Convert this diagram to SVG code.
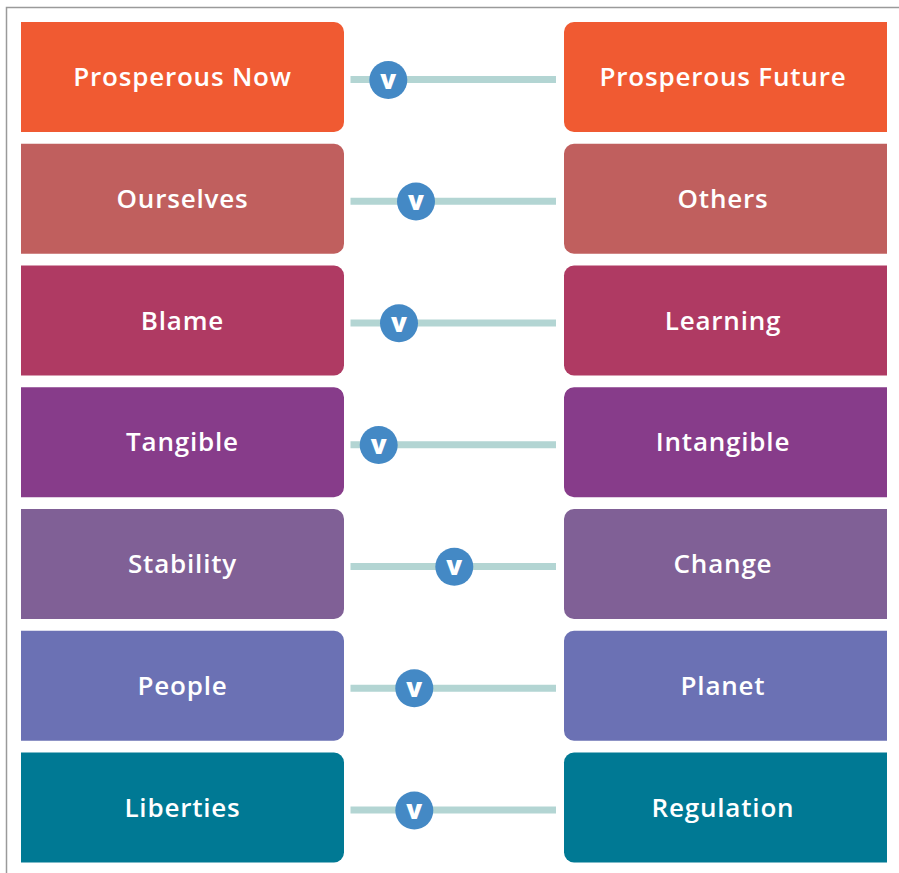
<svg xmlns="http://www.w3.org/2000/svg" width="899" height="873" viewBox="0 0 899 873">
<style>
.lbl{font-family:"Open Sans",Lato,"Liberation Sans",sans-serif;font-weight:600;font-size:26px;letter-spacing:0.8px;fill:#ffffff;text-anchor:middle}
.knob{fill:#4489C5}
.kt{font-family:"Open Sans",Lato,"Liberation Sans",sans-serif;font-weight:800;font-size:26px;fill:#ffffff;text-anchor:middle}
.track{fill:#B3D5D3}
.c1{fill:#F05A32}.c2{fill:#C05F5E}.c3{fill:#AF3A63}.c4{fill:#873C8A}.c5{fill:#806096}.c6{fill:#6B71B4}.c7{fill:#007994}
</style>
<rect width="899" height="873" fill="#ffffff"/>
<path d="M6.5,873 V7.5 H899" fill="none" stroke="#9a9a9a" stroke-width="1.5"/>

<g id="connectors">
<rect class="track" x="350.5" y="76" width="205.5" height="7"/>
<rect class="track" x="350.5" y="197.75" width="205.5" height="7"/>
<rect class="track" x="350.5" y="319.5" width="205.5" height="7"/>
<rect class="track" x="350.5" y="441.25" width="205.5" height="7"/>
<rect class="track" x="350.5" y="563" width="205.5" height="7"/>
<rect class="track" x="350.5" y="684.75" width="205.5" height="7"/>
<rect class="track" x="350.5" y="806.5" width="205.5" height="7"/>
</g>

<g id="row1-left"><path class="c1" d="M21,22 H334 a10,10 0 0 1 10,10 V122 a10,10 0 0 1 -10,10 H21 Z"/><text class="lbl" x="182.5" y="86">Prosperous Now</text></g>
<g id="row1-right"><path class="c1" d="M887,22 V132 H574 a10,10 0 0 1 -10,-10 V32 a10,10 0 0 1 10,-10 Z"/><text class="lbl" x="723" y="86">Prosperous Future</text></g>
<g id="row1-knob"><circle class="knob" cx="388.3" cy="80" r="19"/><text class="kt" x="388.3" y="88.5">v</text></g>

<g id="row2-left"><path class="c2" d="M21,143.75 H334 a10,10 0 0 1 10,10 V243.75 a10,10 0 0 1 -10,10 H21 Z"/><text class="lbl" x="182.5" y="207.75">Ourselves</text></g>
<g id="row2-right"><path class="c2" d="M887,143.75 V253.75 H574 a10,10 0 0 1 -10,-10 V153.75 a10,10 0 0 1 10,-10 Z"/><text class="lbl" x="723" y="207.75">Others</text></g>
<g id="row2-knob"><circle class="knob" cx="416" cy="201.5" r="19"/><text class="kt" x="416" y="210">v</text></g>

<g id="row3-left"><path class="c3" d="M21,265.5 H334 a10,10 0 0 1 10,10 V365.5 a10,10 0 0 1 -10,10 H21 Z"/><text class="lbl" x="182.5" y="329.5">Blame</text></g>
<g id="row3-right"><path class="c3" d="M887,265.5 V375.5 H574 a10,10 0 0 1 -10,-10 V275.5 a10,10 0 0 1 10,-10 Z"/><text class="lbl" x="723" y="329.5">Learning</text></g>
<g id="row3-knob"><circle class="knob" cx="399" cy="323.2" r="19"/><text class="kt" x="399" y="331.7">v</text></g>

<g id="row4-left"><path class="c4" d="M21,387.25 H334 a10,10 0 0 1 10,10 V487.25 a10,10 0 0 1 -10,10 H21 Z"/><text class="lbl" x="182.5" y="451.25">Tangible</text></g>
<g id="row4-right"><path class="c4" d="M887,387.25 V497.25 H574 a10,10 0 0 1 -10,-10 V397.25 a10,10 0 0 1 10,-10 Z"/><text class="lbl" x="723" y="451.25">Intangible</text></g>
<g id="row4-knob"><circle class="knob" cx="378.7" cy="445" r="19"/><text class="kt" x="378.7" y="453.5">v</text></g>

<g id="row5-left"><path class="c5" d="M21,509 H334 a10,10 0 0 1 10,10 V609 a10,10 0 0 1 -10,10 H21 Z"/><text class="lbl" x="182.5" y="573">Stability</text></g>
<g id="row5-right"><path class="c5" d="M887,509 V619 H574 a10,10 0 0 1 -10,-10 V519 a10,10 0 0 1 10,-10 Z"/><text class="lbl" x="723" y="573">Change</text></g>
<g id="row5-knob"><circle class="knob" cx="454.3" cy="566.7" r="19"/><text class="kt" x="454.3" y="575.2">v</text></g>

<g id="row6-left"><path class="c6" d="M21,630.75 H334 a10,10 0 0 1 10,10 V730.75 a10,10 0 0 1 -10,10 H21 Z"/><text class="lbl" x="182.5" y="694.75">People</text></g>
<g id="row6-right"><path class="c6" d="M887,630.75 V740.75 H574 a10,10 0 0 1 -10,-10 V640.75 a10,10 0 0 1 10,-10 Z"/><text class="lbl" x="723" y="694.75">Planet</text></g>
<g id="row6-knob"><circle class="knob" cx="414.3" cy="688.3" r="19"/><text class="kt" x="414.3" y="696.8">v</text></g>

<g id="row7-left"><path class="c7" d="M21,752.5 H334 a10,10 0 0 1 10,10 V852.5 a10,10 0 0 1 -10,10 H21 Z"/><text class="lbl" x="182.5" y="816.5">Liberties</text></g>
<g id="row7-right"><path class="c7" d="M887,752.5 V862.5 H574 a10,10 0 0 1 -10,-10 V762.5 a10,10 0 0 1 10,-10 Z"/><text class="lbl" x="723" y="816.5">Regulation</text></g>
<g id="row7-knob"><circle class="knob" cx="414.3" cy="810.5" r="19"/><text class="kt" x="414.3" y="819">v</text></g>
</svg>
